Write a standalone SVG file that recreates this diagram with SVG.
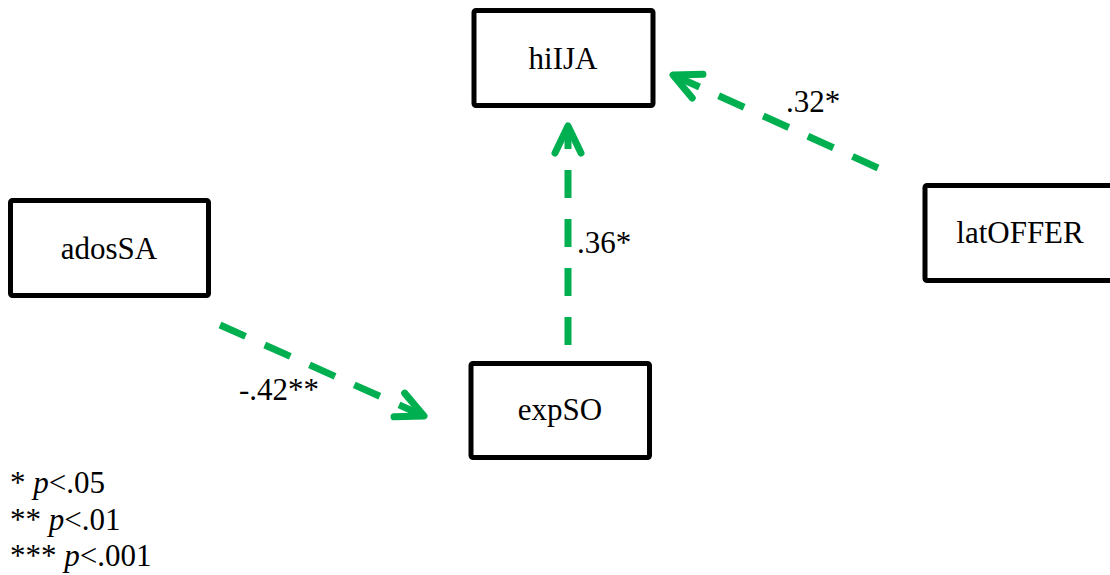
<svg xmlns="http://www.w3.org/2000/svg" width="1110" height="575" viewBox="0 0 1110 575">
  <style>
    .box { fill: #ffffff; stroke: #000000; stroke-width: 5; }
    .lbl { font-family: "Liberation Serif", "Times New Roman", serif; font-size: 31px; fill: #000000; }
    .mid { text-anchor: middle; }
    .path { fill: none; stroke: #00B050; stroke-width: 7; stroke-dasharray: 28 21; }
  </style>
  <defs>
    <marker id="chev" markerUnits="userSpaceOnUse" markerWidth="40" markerHeight="40" refX="0" refY="0" orient="auto" overflow="visible">
      <path d="M-27,-13 L0,0 L-27,13" fill="none" stroke="#00B050" stroke-width="7" stroke-linecap="round" stroke-linejoin="round"/>
    </marker>
  </defs>

  <rect width="1110" height="575" fill="#ffffff"/>

  <g id="connectors">
    <path class="path" d="M568,345 L568,126" marker-end="url(#chev)"/>
    <path class="path" d="M220,325 L424,416" marker-end="url(#chev)"/>
    <path class="path" d="M878,168 L673,75" marker-end="url(#chev)"/>
  </g>

  <g id="node-hiIJA">
    <rect class="box" x="474" y="10.5" width="179" height="95" rx="2"/>
    <text class="lbl mid" x="563" y="69">hiIJA</text>
  </g>
  <g id="node-adosSA">
    <rect class="box" x="10.5" y="200.5" width="198" height="95" rx="2"/>
    <text class="lbl mid" x="109" y="259">adosSA</text>
  </g>
  <g id="node-expSO">
    <rect class="box" x="471" y="363.5" width="178.5" height="94" rx="2"/>
    <text class="lbl mid" x="560" y="420">expSO</text>
  </g>
  <g id="node-latOFFER">
    <rect class="box" x="925" y="185.5" width="200" height="95" rx="2"/>
    <text class="lbl mid" x="1020" y="243">latOFFER</text>
  </g>

  <g id="edge-labels">
    <text class="lbl" x="577" y="253">.36*</text>
    <text class="lbl" x="786" y="112">.32*</text>
    <text class="lbl" x="239" y="400">-.42**</text>
  </g>

  <g id="legend">
    <text class="lbl" x="10" y="493">* <tspan font-style="italic">p</tspan>&lt;.05</text>
    <text class="lbl" x="10" y="530">** <tspan font-style="italic">p</tspan>&lt;.01</text>
    <text class="lbl" x="10" y="566">*** <tspan font-style="italic">p</tspan>&lt;.001</text>
  </g>
</svg>
